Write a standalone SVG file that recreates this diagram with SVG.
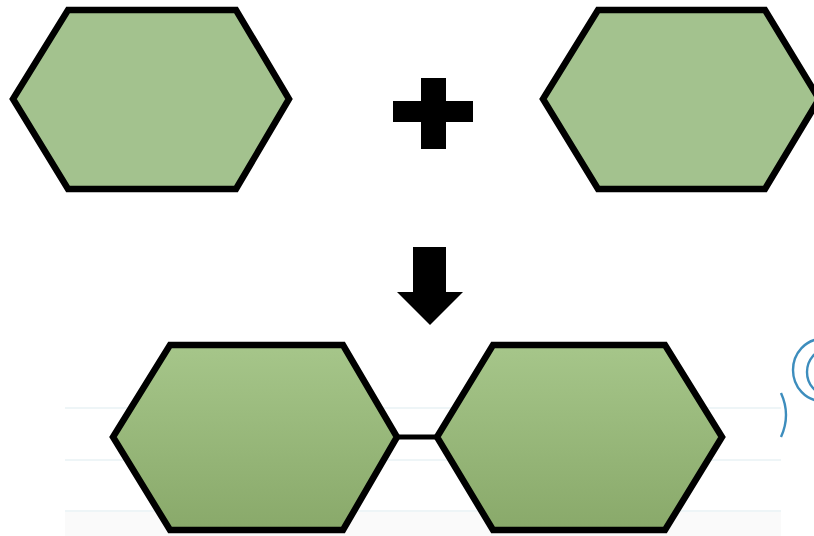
<svg xmlns="http://www.w3.org/2000/svg" width="814" height="536" viewBox="0 0 814 536">
<style>
.hex{stroke:#000;stroke-width:6.5;stroke-linejoin:miter}
.top{fill:#a3c28e}
.bot{fill:url(#g)}
.rule{stroke:#eef5f7;stroke-width:2}
.swirl{fill:none;stroke:#3d8dbd;stroke-width:2.4}
</style>
<defs>
<linearGradient id="g" x1="0" y1="0" x2="0" y2="1">
<stop offset="0" stop-color="#a6c68a"/>
<stop offset="1" stop-color="#89a96a"/>
</linearGradient>
</defs>
<rect width="814" height="536" fill="#fff"/>
<g id="background">
<rect x="65" y="511" width="716" height="25" fill="#fafafa"/>
<line class="rule" x1="65" y1="408" x2="781" y2="408"/>
<line class="rule" x1="65" y1="460" x2="781" y2="460"/>
<line class="rule" x1="65" y1="511" x2="781" y2="511"/>
</g>
<g id="connectors">
<line x1="395" y1="437" x2="439" y2="437" stroke="#000" stroke-width="5"/>
</g>
<g id="hex-top-left">
<polygon class="hex top" points="68,10 236,10 289,99 236,189 68,189 13,99"/>
</g>
<g id="plus">
<rect x="421" y="78" width="25" height="71" fill="#000"/>
<rect x="393" y="101" width="80" height="21" fill="#000"/>
</g>
<g id="hex-top-right">
<polygon class="hex top" points="598,10 765,10 819,99 765,189 598,189 543,99"/>
</g>
<g id="arrow">
<polygon points="413,247 446,247 446,292 463,292 430,325 397,292 413,292" fill="#000"/>
</g>
<g id="hex-bottom-left">
<polygon class="hex bot" points="170,345 343,345 397,437 343,530 170,530 113,437"/>
</g>
<g id="hex-bottom-right">
<polygon class="hex bot" points="493,345 665,345 722,437 665,530 493,530 437,437"/>
</g>
<g id="swirls">
<ellipse class="swirl" cx="822" cy="370" rx="29" ry="31"/>
<ellipse class="swirl" cx="826" cy="372" rx="19" ry="22"/>
<path class="swirl" d="M781,393 Q791,415 781,437"/>
</g>
</svg>
